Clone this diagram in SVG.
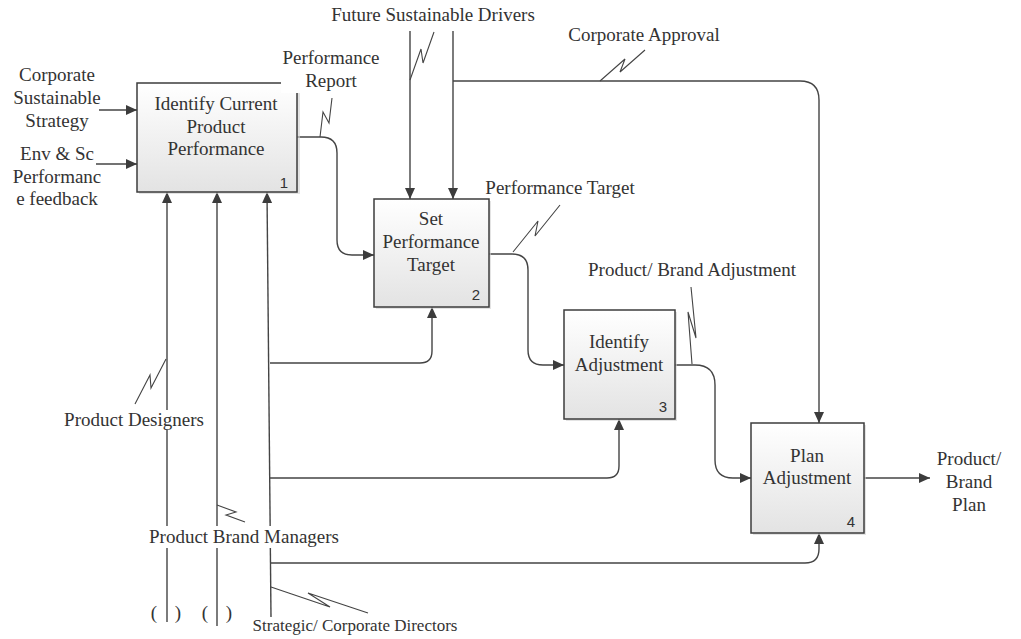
<svg xmlns="http://www.w3.org/2000/svg" width="1021" height="639" viewBox="0 0 1021 639">
<style>
.box{fill:url(#g);stroke:#3c3c3c;stroke-width:1.5}
.sh{fill:#d0d0d0;opacity:.6}
.t{font-family:"Liberation Serif","Times New Roman",serif;font-size:19px;fill:#333;text-anchor:middle}
.n{font-family:"Liberation Sans",Arial,sans-serif;font-size:15px;fill:#333;text-anchor:middle}
.c{fill:none;stroke:#444;stroke-width:1.4}
.a{marker-end:url(#ah)}
.z{fill:none;stroke:#444;stroke-width:1.1}
</style>
<defs>
<linearGradient id="g" x1="0" y1="0" x2="0" y2="1">
<stop offset="0" stop-color="#ffffff"/>
<stop offset="1" stop-color="#e3e3e3"/>
</linearGradient>
<marker id="ah" markerUnits="userSpaceOnUse" markerWidth="11" markerHeight="10" refX="11" refY="5" orient="auto">
<path d="M0,0 L11,5 L0,10 z" fill="#3c3c3c"/>
</marker>
</defs>
<rect width="1021" height="639" fill="#ffffff"/>

<g id="connectors">
<path class="c a" d="M99,110 H137"/>
<path class="c a" d="M96,164 H137"/>
<path class="c a" d="M167,622 V192"/>
<path class="c a" d="M217,626 V192"/>
<path class="c a" d="M271,617 L267,192"/>
<path class="c a" d="M270,363 H420 Q432,363 432,351 V307"/>
<path class="c a" d="M270,478 H607 Q619,478 619,466 V419"/>
<path class="c a" d="M270,563 H805 Q819,563 819,549 V533"/>
<path class="c a" d="M297,137 H321 Q337,137 337,153 V240 Q337,255 352,255 H374"/>
<path class="c a" d="M410,31 V199"/>
<path class="c a" d="M453,31 V199"/>
<path class="c a" d="M453,81 H800 Q819,81 819,100 V423"/>
<path class="c a" d="M489,254 H512 Q528,254 528,270 V350 Q528,365 543,365 H564"/>
<path class="c a" d="M675,365 H695 Q715,365 715,385 V460 Q715,478 733,478 H751"/>
<path class="c a" d="M864,478 H930"/>
<path class="z" d="M320,137 L323,112 L329,123 L332,98"/>
<path class="z" d="M410,80 L421,49 L423,63 L434,32"/>
<path class="z" d="M600,81 L625,59 L620,72 L645,50"/>
<path class="z" d="M513,252 L538,221 L535,236 L560,205"/>
<path class="z" d="M692,364 L688,312 L696,338 L691,287"/>
<path class="z" d="M166,359 L151,388 L150,375 L135,404"/>
<path class="z" d="M217,505 L236,512 L226,515 L245,522"/>
<path class="z" d="M271,587 L330,607 L308,593 L368,613"/>
</g>

<g id="node1">
<rect class="sh" x="139" y="85" width="161" height="109"/>
<rect class="box" x="137" y="83" width="160" height="109"/>
<text class="t" x="216" y="110">Identify Current</text>
<text class="t" x="216" y="133">Product</text>
<text class="t" x="216" y="155">Performance</text>
<text class="n" x="284" y="188">1</text>
</g>
<g id="node2">
<rect class="sh" x="376" y="201" width="115" height="108"/>
<rect class="box" x="374" y="199" width="115" height="108"/>
<text class="t" x="431" y="225">Set</text>
<text class="t" x="431" y="248">Performance</text>
<text class="t" x="431" y="271">Target</text>
<text class="n" x="476" y="300">2</text>
</g>
<g id="node3">
<rect class="sh" x="566" y="312" width="111" height="109"/>
<rect class="box" x="564" y="310" width="111" height="109"/>
<text class="t" x="619" y="348">Identify</text>
<text class="t" x="619" y="371">Adjustment</text>
<text class="n" x="663" y="412">3</text>
</g>
<g id="node4">
<rect class="sh" x="753" y="425" width="113" height="110"/>
<rect class="box" x="751" y="423" width="113" height="110"/>
<text class="t" x="807" y="462">Plan</text>
<text class="t" x="807" y="484">Adjustment</text>
<text class="n" x="851" y="527">4</text>
</g>

<g id="labels">
<text class="t" x="57" y="81">Corporate</text>
<text class="t" x="57" y="104">Sustainable</text>
<text class="t" x="57" y="127">Strategy</text>
<text class="t" x="57" y="160">Env &amp; Sc</text>
<text class="t" x="57" y="183">Performanc</text>
<text class="t" x="57" y="205">e feedback</text>
<rect x="281" y="45" width="100" height="48" fill="#ffffff"/>
<text class="t" x="331" y="64">Performance</text>
<text class="t" x="331" y="87">Report</text>
<text class="t" x="433" y="21">Future Sustainable Drivers</text>
<text class="t" x="644" y="41">Corporate Approval</text>
<text class="t" x="560" y="194">Performance Target</text>
<text class="t" x="692" y="276">Product/ Brand Adjustment</text>
<text class="t" x="969" y="465">Product/</text>
<text class="t" x="969" y="488">Brand</text>
<text class="t" x="969" y="511">Plan</text>
<rect x="64" y="410" width="142" height="20" fill="#ffffff"/>
<text class="t" x="134" y="426">Product Designers</text>
<rect x="146" y="526" width="196" height="22" fill="#ffffff"/>
<text class="t" x="244" y="543">Product Brand Managers</text>
<text class="t" x="355" y="631" style="font-size:17px">Strategic/ Corporate Directors</text>
<text class="t" x="154" y="619">(</text>
<text class="t" x="178" y="619">)</text>
<text class="t" x="205" y="619">(</text>
<text class="t" x="229" y="619">)</text>
</g>
</svg>
